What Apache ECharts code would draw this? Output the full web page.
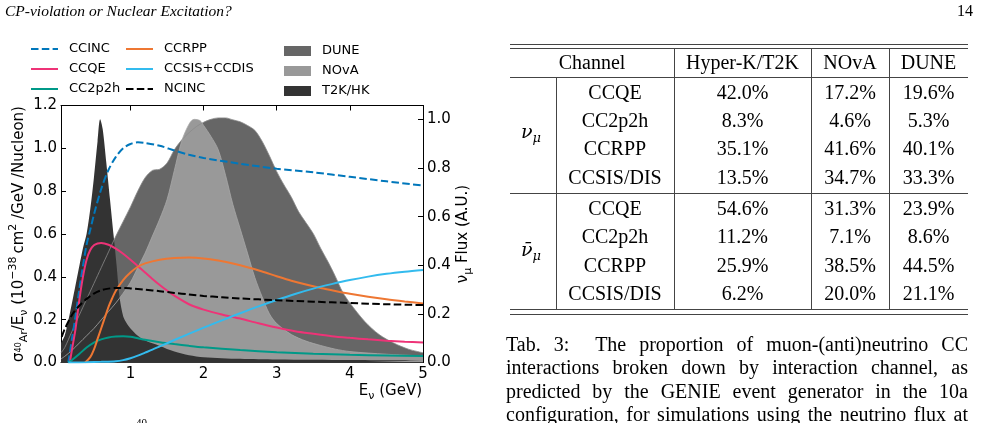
<!DOCTYPE html>
<html>
<head>
<meta charset="utf-8">
<script src="https://cdn.jsdelivr.net/npm/echarts@6/dist/echarts.min.js"></script>
<style>
  html, body { margin: 0; padding: 0; background: #fff; }
  #chart { width: 984px; height: 423px; }
</style>
</head>
<body>
<div id="chart"></div>
<script>
// cross sections, 10^-38 cm^2 / GeV / nucleon (left axis)
const eCCINC = [0.15,0.2,0.25,0.3,0.35,0.4,0.45,0.5,0.6,0.7,0.8,0.9,1.0,1.1,1.2,1.4,1.6,1.8,2.0,2.5,3.0,3.5,4.0,4.5,5.0];
const ccinc  = [0,0.11,0.22,0.34,0.45,0.55,0.62,0.69,0.81,0.9,0.96,1.0,1.02,1.028,1.025,1.012,0.99,0.97,0.955,0.928,0.905,0.888,0.867,0.846,0.826];

const eCCQE = [0.17,0.2,0.25,0.3,0.35,0.4,0.45,0.5,0.55,0.6,0.7,0.8,0.9,1.0,1.1,1.2,1.3,1.4,1.5,1.6,1.8,2.0,2.25,2.5,2.75,3.0,3.25,3.5,3.75,4.0,4.25,4.5,4.75,5.0];
const ccqe  = [0,0.06,0.16,0.29,0.4,0.48,0.525,0.547,0.556,0.558,0.55,0.532,0.508,0.48,0.45,0.42,0.39,0.362,0.336,0.312,0.272,0.247,0.224,0.205,0.183,0.163,0.146,0.134,0.123,0.115,0.108,0.102,0.097,0.093];

const eCC2p2h = [0.15,0.2,0.3,0.4,0.5,0.6,0.7,0.8,0.9,1.0,1.1,1.2,1.4,1.6,1.8,2.0,2.5,3.0,3.5,4.0,4.5,5.0];
const cc2p2h  = [0,0.012,0.04,0.07,0.093,0.108,0.117,0.121,0.122,0.12,0.113,0.106,0.095,0.086,0.078,0.071,0.058,0.048,0.041,0.036,0.033,0.03];

const eCCRPP = [0.38,0.45,0.5,0.55,0.6,0.65,0.7,0.75,0.8,0.9,1.0,1.1,1.2,1.4,1.6,1.8,2.0,2.2,2.4,2.6,2.8,3.0,3.2,3.4,3.6,3.8,4.0,4.25,4.5,4.75,5.0];
const ccrpp  = [0,0.025,0.06,0.11,0.16,0.21,0.26,0.3,0.335,0.385,0.42,0.447,0.463,0.48,0.488,0.49,0.486,0.476,0.462,0.445,0.425,0.403,0.382,0.364,0.348,0.334,0.321,0.307,0.295,0.285,0.276];

const eCCSIS = [0.15,0.4,0.6,0.8,0.9,1.0,1.1,1.2,1.3,1.4,1.5,1.75,2.0,2.25,2.5,2.75,3.0,3.25,3.5,3.75,4.0,4.25,4.5,4.75,5.0];
const ccsis  = [0,0.001,0.003,0.006,0.011,0.02,0.032,0.046,0.06,0.075,0.09,0.127,0.163,0.197,0.23,0.262,0.292,0.32,0.345,0.366,0.385,0.401,0.414,0.424,0.432];

const eNCINC = [0.06,0.1,0.2,0.3,0.4,0.5,0.6,0.7,0.8,0.9,1.0,1.2,1.4,1.6,1.8,2.0,2.25,2.5,3.0,3.5,4.0,4.5,5.0];
const ncinc  = [0.12,0.155,0.222,0.265,0.297,0.322,0.337,0.345,0.348,0.348,0.346,0.34,0.333,0.325,0.318,0.311,0.305,0.299,0.291,0.284,0.278,0.272,0.268];

// muon neutrino flux, arbitrary units (right axis)
const eDUNE = [0.05,0.1,0.2,0.3,0.4,0.5,0.6,0.7,0.8,0.9,1.0,1.1,1.2,1.3,1.4,1.5,1.6,1.7,1.8,1.9,2.0,2.1,2.2,2.3,2.4,2.5,2.6,2.7,2.8,2.9,3.0,3.1,3.2,3.3,3.4,3.5,3.6,3.7,3.8,3.9,4.0,4.2,4.4,4.6,4.8,5.0];
const fluxDUNE = [0.04,0.061,0.128,0.195,0.26,0.325,0.39,0.455,0.52,0.58,0.64,0.705,0.76,0.79,0.795,0.82,0.875,0.915,0.945,0.97,0.988,1.0,1.006,1.006,0.998,0.99,0.975,0.955,0.91,0.85,0.785,0.73,0.68,0.62,0.575,0.53,0.47,0.415,0.355,0.29,0.245,0.17,0.115,0.08,0.055,0.04];

const eNOvA = [0.05,0.1,0.2,0.3,0.4,0.5,0.6,0.7,0.8,0.9,1.0,1.1,1.2,1.3,1.4,1.5,1.6,1.7,1.8,1.87,1.95,2.0,2.1,2.2,2.3,2.4,2.5,2.6,2.7,2.8,2.9,3.0,3.2,3.4,3.6,3.8,4.0,4.5,5.0];
const fluxNOvA = [0.015,0.025,0.05,0.08,0.11,0.14,0.175,0.21,0.245,0.285,0.33,0.39,0.45,0.52,0.59,0.67,0.79,0.91,0.98,1.0,0.995,0.975,0.93,0.875,0.77,0.65,0.55,0.45,0.35,0.27,0.2,0.16,0.115,0.088,0.07,0.055,0.045,0.034,0.027];

const eT2K = [0.05,0.1,0.17,0.26,0.35,0.4,0.45,0.5,0.55,0.585,0.62,0.67,0.72,0.77,0.81,0.85,0.9,0.95,1.0,1.1,1.2,1.4,1.6,1.8,2.0,2.5,3.0,4.0,5.0];
const fluxT2K = [0.08,0.11,0.2,0.335,0.47,0.53,0.63,0.76,0.91,1.0,0.96,0.82,0.67,0.52,0.4,0.27,0.19,0.16,0.14,0.11,0.09,0.068,0.045,0.03,0.022,0.015,0.012,0.01,0.008];

const xTicks = [1, 2, 3, 4, 5];
const fluxTicks = [0, 0.2, 0.4, 0.6, 0.8, 1.0];

// table 3
const channels = ['CCQE', 'CC2p2h', 'CCRPP', 'CCSIS/DIS'];
const numuHK   = ['42.0%', '8.3%', '35.1%', '13.5%'];
const numuNOvA = ['17.2%', '4.6%', '41.6%', '34.7%'];
const numuDUNE = ['19.6%', '5.3%', '40.1%', '33.3%'];
const nubarHK   = ['54.6%', '11.2%', '25.9%', '6.2%'];
const nubarNOvA = ['31.3%', '7.1%', '38.5%', '20.0%'];
const nubarDUNE = ['23.9%', '8.6%', '44.5%', '21.1%'];

const captionLines = [
  'Tab. 3:  The proportion of muon-(anti)neutrino CC',
  'interactions broken down by interaction channel, as',
  'predicted by the GENIE event generator in the 10a',
  'configuration, for simulations using the neutrino flux at'
];

function zip(xs, ys) { return xs.map((x, i) => [x, ys[i]]); }

const SANS = 'DejaVu Sans';
const SERIF = '"Liberation Serif", "Times New Roman", serif';

function xsLine(name, xs, ys, color, dashed) {
  return {
    name: name, type: 'line', xAxisIndex: 0, yAxisIndex: 0,
    data: zip(xs, ys), smooth: 0.3, symbol: 'none', z: 5,
    lineStyle: { color: color, width: 2, type: dashed ? [7.5, 3.3] : 'solid' },
    itemStyle: { color: color }
  };
}
function fluxArea(name, xs, ys, color) {
  return {
    name: name, type: 'line', xAxisIndex: 0, yAxisIndex: 1,
    data: zip(xs, ys), smooth: 0.3, symbol: 'none', z: 2,
    lineStyle: { width: 0 },
    areaStyle: { color: color, opacity: 1 },
    itemStyle: { color: color }
  };
}
function fluxEdge(xs, ys, color) {
  return {
    type: 'line', xAxisIndex: 0, yAxisIndex: 1, data: zip(xs, ys),
    smooth: 0.3, symbol: 'none', z: 3, silent: true,
    lineStyle: { color: color, width: 0.8 }
  };
}

// ---- page graphics (header, table, caption, axis titles) ----
const els = [];
function txt(x, y, text, font, align, vAlign) {
  els.push({
    type: 'text', x: x, y: y,
    style: { text: text, font: font, fill: '#000', align: align || 'center', verticalAlign: vAlign || 'middle' }
  });
}
function hline(x1, x2, y) {
  els.push({ type: 'line', shape: { x1: x1, y1: y, x2: x2, y2: y }, style: { stroke: '#444', lineWidth: 1 } });
}
function vline(x, y1, y2) {
  els.push({ type: 'line', shape: { x1: x, y1: y1, x2: x, y2: y2 }, style: { stroke: '#444', lineWidth: 1 } });
}

txt(5, 12, 'CP-violation or Nuclear Excitation?', 'italic 15.5px ' + SERIF, 'left');
txt(973, 12, '14', '16px ' + SERIF, 'right');

// table
const T = { left: 510, right: 968, top1: 44.5, top2: 48.5, head: 77.5, mid: 193.5, bot1: 309.5, bot2: 314.5 };
const colX = [556.5, 674.5, 811.5, 889.5];
hline(T.left, T.right, T.top1); hline(T.left, T.right, T.top2);
hline(T.left, T.right, T.head); hline(T.left, T.right, T.mid);
hline(T.left, T.right, T.bot1); hline(T.left, T.right, T.bot2);
vline(colX[0], T.head, T.bot1);
vline(colX[1], T.top2, T.bot1); vline(colX[2], T.top2, T.bot1); vline(colX[3], T.top2, T.bot1);

const TF = '20px ' + SERIF;
const cx = [615, 742.5, 850, 928.5];
txt(592, 63.3, 'Channel', TF);
txt(cx[1], 63.3, 'Hyper-K/T2K', TF);
txt(cx[2], 63.3, 'NOvA', TF);
txt(cx[3], 63.3, 'DUNE', TF);
const greekRich = {
  v: { fontFamily: 'DejaVu Serif', fontStyle: 'italic', fontSize: 19, lineHeight: 24 },
  m: { fontFamily: 'DejaVu Serif', fontStyle: 'italic', fontSize: 13, lineHeight: 14, verticalAlign: 'bottom' }
};
function block(y0, hk, nova, dune, label, ly) {
  channels.forEach((c, i) => {
    const y = y0 + i * 28.3;
    txt(cx[0], y, c, TF);
    txt(cx[1], y, hk[i], TF);
    txt(cx[2], y, nova[i], TF);
    txt(cx[3], y, dune[i], TF);
  });
  els.push({ type: 'text', x: 531, y: ly, style: { text: label, rich: greekRich, fill: '#000', align: 'center', verticalAlign: 'middle' } });
}
block(93.5, numuHK, numuNOvA, numuDUNE, '{v|ν}{m|μ}', 133);
block(209.8, nubarHK, nubarNOvA, nubarDUNE, '{v|ν\u0304}{m|μ}', 251);

// justified caption
const mctx = document.createElement('canvas').getContext('2d');
function justify(line, x0, x1, y, font) {
  const words = line.split(/\s+/);
  mctx.font = font;
  const w = words.map(s => mctx.measureText(s).width);
  const weights = words.slice(1).map((s, i) => (/:$/.test(words[i]) && i > 0) ? 2 : 1);
  const wsum = weights.reduce((a, b) => a + b, 0);
  const free = x1 - x0 - w.reduce((a, b) => a + b, 0);
  let x = x0;
  words.forEach((s, i) => {
    txt(x, y, s, font, 'left');
    if (i < weights.length) x += w[i] + free * weights[i] / wsum;
  });
}
captionLines.forEach((l, i) => justify(l, 506, 968, 346 + i * 23.2, '20px ' + SERIF));

// cut-off superscript from the figure caption below
txt(136, 418, '40', '11px ' + SERIF, 'left', 'top');

// axis titles
const axRich = {
  b: { fontFamily: SANS, fontSize: 15, lineHeight: 22 },
  s: { fontFamily: SANS, fontSize: 11, lineHeight: 11, verticalAlign: 'bottom' },
  ss: { fontFamily: SANS, fontSize: 8, lineHeight: 8 },
  p: { fontFamily: SANS, fontSize: 11, lineHeight: 11, verticalAlign: 'top' }
};
els.push({
  type: 'text', x: 19, y: 234, rotation: Math.PI / 2,
  style: {
    text: '{b|σ}{ss|40}{s|Ar}{b|/E}{s|ν}{b| (10}{p|−38}{b|\u2009cm}{p|2}{b| /GeV /Nucleon)}',
    rich: axRich, fill: '#000', align: 'center', verticalAlign: 'middle'
  }
});
els.push({
  type: 'text', x: 463, y: 234, rotation: Math.PI / 2,
  style: { text: '{b|ν}{s|μ}{b| Flux (A.U.)}', rich: axRich, fill: '#000', align: 'center', verticalAlign: 'middle' }
});
els.push({
  type: 'text', x: 422, y: 391,
  style: { text: '{b|E}{s|ν}{b| (GeV)}', rich: axRich, fill: '#000', align: 'right', verticalAlign: 'middle' }
});

const legendCommon = {
  orient: 'vertical', top: 42, padding: 0, itemWidth: 27, itemHeight: 14, itemGap: 6,
  selectedMode: false,
  itemStyle: { color: 'rgba(0,0,0,0)', borderWidth: 0, opacity: 0 },
  textStyle: { fontFamily: SANS, fontSize: 13, color: '#000', lineHeight: 14, padding: [0, 0, 0, 6] }
};

const chart = echarts.init(document.getElementById('chart'), null, { renderer: 'canvas' });
chart.setOption({
  animation: false,
  backgroundColor: '#fff',
  grid: { left: 61, top: 105.5, width: 362, height: 257 },
  legend: [
    Object.assign({}, legendCommon, { left: 30, data: ['CCINC', 'CCQE', 'CC2p2h'] }),
    Object.assign({}, legendCommon, { left: 125, data: ['CCRPP', 'CCSIS+CCDIS', 'NCINC'] }),
    Object.assign({}, legendCommon, {
      left: 284, top: 44, itemHeight: 10, itemStyle: {},
      data: [
        { name: 'DUNE', icon: 'rect', itemStyle: { color: '#666666', opacity: 1 } },
        { name: 'NOvA', icon: 'rect', itemStyle: { color: '#999999', opacity: 1 } },
        { name: 'T2K/HK', icon: 'rect', itemStyle: { color: '#333333', opacity: 1 } }
      ]
    })
  ],
  xAxis: [
    {
      type: 'value', min: 0.05, max: 5, position: 'bottom',
      axisLine: { show: true, onZero: false, lineStyle: { color: '#000', width: 1 } },
      axisTick: { show: true, inside: true, length: 5, customValues: xTicks, lineStyle: { color: '#000' } },
      axisLabel: { customValues: xTicks, color: '#000', fontFamily: SANS, fontSize: 15, margin: 4 },
      splitLine: { show: false }
    },
    {
      type: 'value', min: 0.05, max: 5, position: 'top',
      axisLine: { show: true, onZero: false, lineStyle: { color: '#000', width: 1 } },
      axisTick: { show: true, inside: true, length: 5, customValues: xTicks, lineStyle: { color: '#000' } },
      axisLabel: { show: false },
      splitLine: { show: false }
    }
  ],
  yAxis: [
    {
      type: 'value', min: 0, max: 1.2, interval: 0.2, position: 'left',
      axisLine: { show: true, onZero: false, lineStyle: { color: '#000', width: 1 } },
      axisTick: { show: true, inside: true, length: 5, lineStyle: { color: '#000' } },
      axisLabel: { color: '#000', fontFamily: SANS, fontSize: 15, margin: 4, formatter: v => v.toFixed(1) },
      splitLine: { show: false }
    },
    {
      type: 'value', min: 0, max: 1.057, position: 'right',
      axisLine: { show: true, onZero: false, lineStyle: { color: '#000', width: 1 } },
      axisTick: { show: true, inside: true, length: 5, customValues: fluxTicks, lineStyle: { color: '#000' } },
      axisLabel: { customValues: fluxTicks, color: '#000', fontFamily: SANS, fontSize: 15, margin: 4, formatter: v => v.toFixed(1) },
      splitLine: { show: false }
    }
  ],
  graphic: { elements: els },
  series: [
    fluxArea('DUNE', eDUNE, fluxDUNE, '#666666'),
    fluxArea('NOvA', eNOvA, fluxNOvA, '#999999'),
    fluxArea('T2K/HK', eT2K, fluxT2K, '#333333'),
    fluxEdge(eDUNE, fluxDUNE, '#8a8a8a'),
    fluxEdge(eNOvA, fluxNOvA, '#a8a8a8'),
    xsLine('CCINC', eCCINC, ccinc, '#0077BB', true),
    xsLine('CCQE', eCCQE, ccqe, '#EE3377', false),
    xsLine('CC2p2h', eCC2p2h, cc2p2h, '#009988', false),
    xsLine('CCRPP', eCCRPP, ccrpp, '#EE7733', false),
    xsLine('CCSIS+CCDIS', eCCSIS, ccsis, '#33BBEE', false),
    xsLine('NCINC', eNCINC, ncinc, '#000000', true)
  ]
});
</script>
</body>
</html>
